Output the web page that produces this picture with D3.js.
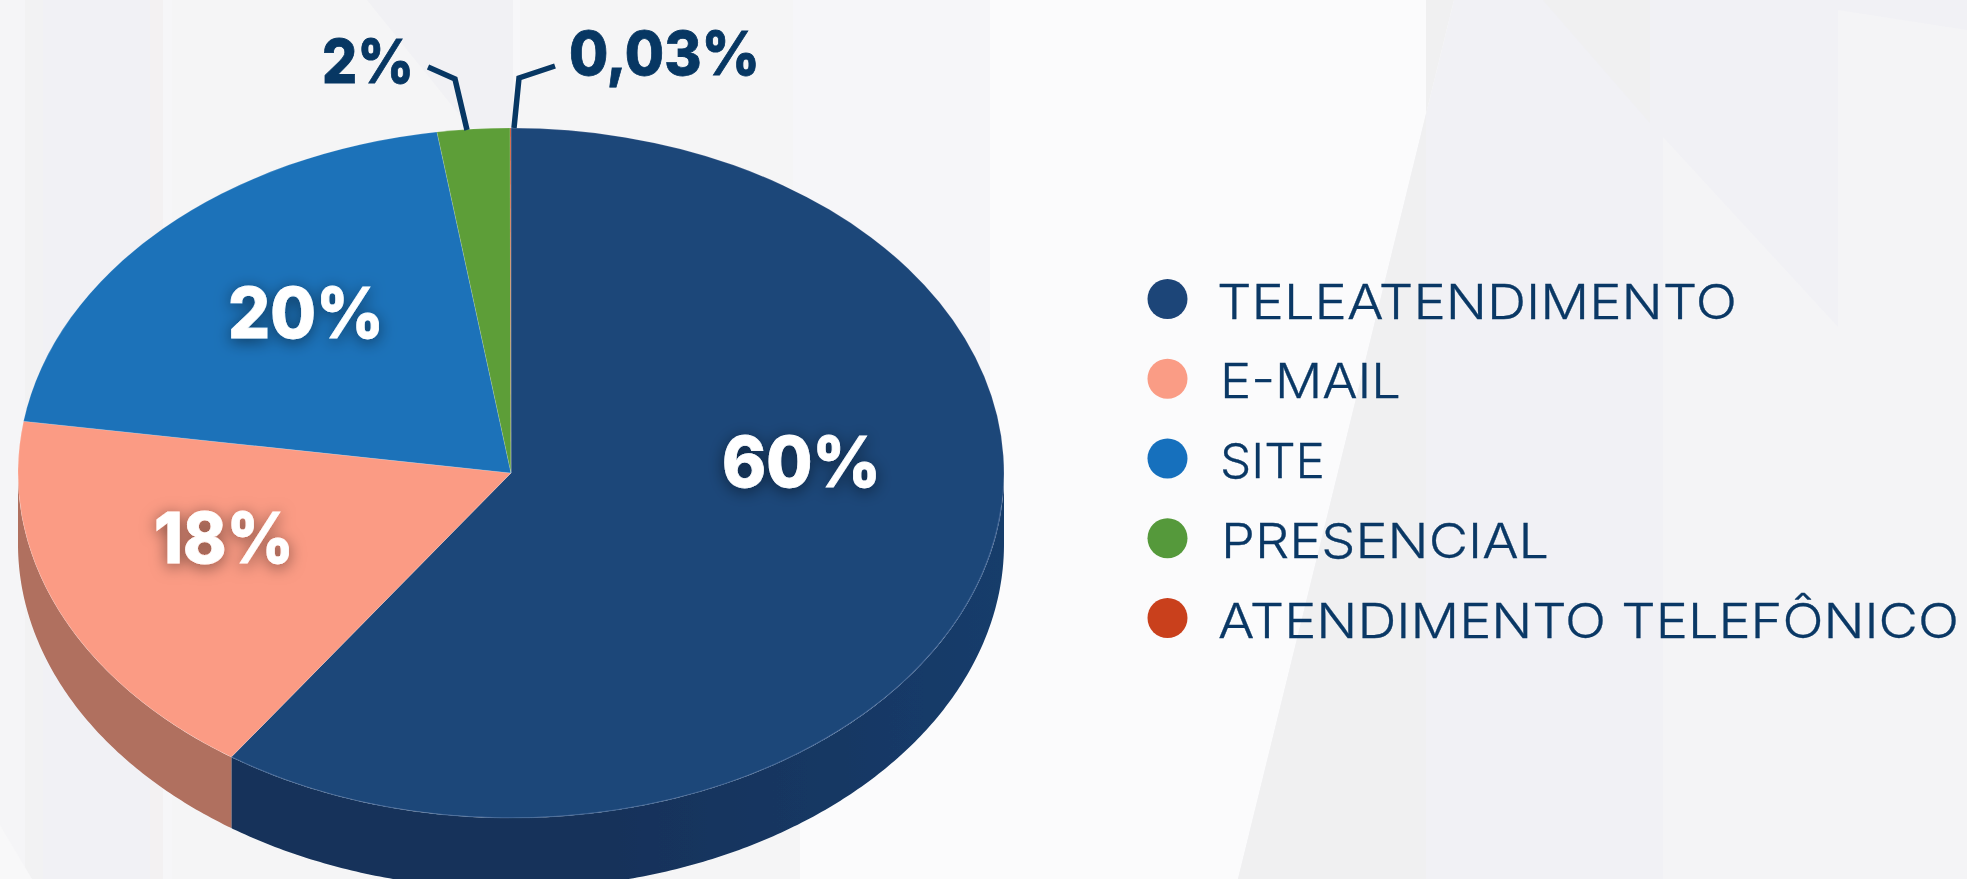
<!DOCTYPE html>
<html>
<head>
<meta charset="utf-8">
<style>
  html, body { margin: 0; padding: 0; background: #fbfbfc; overflow: hidden; }
  svg { display: block; }
</style>
<script src="https://cdn.jsdelivr.net/npm/d3@7"></script>
</head>
<body>
<svg id="chart" width="1967" height="879"></svg>
<script>
// data
var categories = ['TELEATENDIMENTO', 'E-MAIL', 'SITE', 'PRESENCIAL', 'ATENDIMENTO TELEFÔNICO'];
var values = [59.6, 17.8, 20.2, 2.37, 0.03];
var valueLabels = ['60%', '18%', '20%', '2%', '0,03%'];

// styles
var topColors = ['#1e4679', '#fb9b84', '#1b72b9', '#5d9e37', '#c9401f'];
var wallColors = ['url(#darkWall)', '#b06f5e', '#124f80', '#41702a', '#8c2d16'];
var dotColors = ['#1d4478', '#fa9c85', '#1670bd', '#55993a', '#c9401f'];
var navy = '#073763';
var legendInk = '#0a3865';

// layout
var width = 1967, height = 879;
var cx = 511, cy = 473, rx = 493, ry = 345, depth = 71;

// value labels: [x, baseline, width in px], white ones sit on the pie
var labelSpots = [[722, 487, 159], [154, 563, 140], [228, 338, 156], [322, 83, 92], [569, 75, 191]];
var leaders = [null, null, null,
  [[428, 67], [455, 79], [467, 130]],
  [[555, 66], [519, 78], [514, 128]]];

// legend: first dot / baseline and the text box of each row
var legendY = d3.scaleLinear().domain([0, 4]).range([299, 618]);
var legendText = [[1217, 520], [1220, 181], [1220, 105], [1221, 328], [1218, 741]];

var svg = d3.select('#chart');
var defs = svg.append('defs');

var soft = defs.append('filter').attr('id', 'soft');
soft.append('feGaussianBlur').attr('stdDeviation', 0.7);

var shadow = defs.append('filter').attr('id', 'shadow')
    .attr('x', '-30%').attr('y', '-40%').attr('width', '160%').attr('height', '190%');
shadow.append('feDropShadow')
    .attr('dx', 0).attr('dy', 3).attr('stdDeviation', 8)
    .attr('flood-color', '#000').attr('flood-opacity', 0.5);

var wallGrad = defs.append('linearGradient').attr('id', 'darkWall')
    .attr('gradientUnits', 'userSpaceOnUse')
    .attr('x1', 232).attr('x2', 1004).attr('y1', 0).attr('y2', 0);
wallGrad.append('stop').attr('offset', '0.5').attr('stop-color', '#14325a');
wallGrad.append('stop').attr('offset', '1').attr('stop-color', '#163c6b');

drawBackground();

var pie = d3.pie().sort(null).startAngle(0).endAngle(2 * Math.PI);
var slices = pie(values);
var arc = d3.arc().innerRadius(0).outerRadius(rx);

var pieG = svg.append('g').attr('filter', 'url(#soft)');

// side wall, only the front half of the disc shows it
var wallLine = d3.line();
function rim(a, dy) {
  return [cx + rx * Math.sin(a), cy - ry * Math.cos(a) + dy];
}
pieG.selectAll('path.wall')
  .data(slices)
  .enter().append('path')
    .attr('class', 'wall')
    .attr('fill', function(d, i) { return wallColors[i]; })
    .attr('d', function(d) {
      var a0 = Math.max(d.startAngle, Math.PI / 2);
      var a1 = Math.min(d.endAngle, 3 * Math.PI / 2);
      if (a1 <= a0) return null;
      var steps = d3.range(a0, a1, 0.01).concat([a1]);
      var upper = steps.map(function(a) { return rim(a, 0); });
      var lower = steps.slice().reverse().map(function(a) { return rim(a, depth); });
      return wallLine(upper.concat(lower)) + 'Z';
    });

var disc = pieG.append('g')
    .attr('transform', 'translate(' + cx + ',' + cy + ') scale(1,' + (ry / rx) + ')');

disc.selectAll('path.slice')
  .data(slices)
  .enter().append('path')
    .attr('class', 'slice')
    .attr('d', arc)
    .attr('fill', function(d, i) { return topColors[i]; })
    .attr('stroke', 'rgba(255,255,255,0.14)')
    .attr('stroke-width', 1)
    .attr('vector-effect', 'non-scaling-stroke');

// thin light edge where the top meets the wall
var edge = d3.arc().innerRadius(rx - 1).outerRadius(rx);
disc.append('path')
    .attr('d', edge({startAngle: Math.PI / 2 + 0.1, endAngle: slices[0].endAngle}))
    .attr('fill', '#3f6596');

// leader lines
svg.selectAll('path.leader')
  .data(leaders.filter(Boolean))
  .enter().append('path')
    .attr('class', 'leader')
    .attr('d', d3.line())
    .attr('fill', 'none')
    .attr('stroke', navy)
    .attr('stroke-width', 5.5);

// value labels
svg.selectAll('text.value')
  .data(valueLabels)
  .enter().append('text')
    .attr('class', 'value')
    .attr('x', function(d, i) { return labelSpots[i][0]; })
    .attr('y', function(d, i) { return labelSpots[i][1]; })
    .attr('textLength', function(d, i) { return labelSpots[i][2]; })
    .attr('lengthAdjust', 'spacingAndGlyphs')
    .attr('font-family', 'Inter, "Open Sans", sans-serif')
    .attr('font-weight', 800)
    .attr('font-size', function(d, i) { return i < 3 ? 70 : 61; })
    .attr('fill', function(d, i) { return i < 3 ? '#fff' : navy; })
    .attr('stroke', function(d, i) { return i < 3 ? '#fff' : navy; })
    .attr('stroke-width', 0.8)
    .attr('filter', function(d, i) { return i < 3 ? 'url(#shadow)' : null; })
    .text(function(d) { return d; });

// legend
var legend = svg.selectAll('g.legend')
  .data(categories)
  .enter().append('g')
    .attr('class', 'legend');

legend.append('circle')
    .attr('cx', 1167.5)
    .attr('cy', function(d, i) { return legendY(i); })
    .attr('r', 20)
    .attr('fill', function(d, i) { return dotColors[i]; })
    .attr('filter', 'url(#soft)');

legend.append('text')
    .attr('x', function(d, i) { return legendText[i][0]; })
    .attr('y', function(d, i) { return legendY(i) + 19.5; })
    .attr('textLength', function(d, i) { return legendText[i][1]; })
    .attr('lengthAdjust', 'spacingAndGlyphs')
    .attr('font-family', 'Inter, "Open Sans", sans-serif')
    .attr('font-weight', 300)
    .attr('font-size', 48)
    .attr('fill', legendInk)
    .attr('stroke', legendInk)
    .attr('stroke-width', 0.3)
    .text(function(d) { return d; });

function drawBackground() {
  var bg = svg.append('g');
  function band(x0, x1, y1, color) {
    bg.append('rect').attr('x', x0).attr('y', 0)
      .attr('width', x1 - x0).attr('height', y1).attr('fill', color);
  }
  function poly(pts, color) {
    bg.append('polygon').attr('points', pts.join(' ')).attr('fill', color);
  }
  bg.append('rect').attr('width', width).attr('height', height).attr('fill', '#fbfbfc');

  // pale vertical strips on the left
  band(0, 25, height, '#f5f5f7');
  band(25, 43, height, '#f2f2f3');
  band(43, 150, height, '#f1f1f5');
  band(150, 163, height, '#f3f1f2');
  band(163, 172, height, '#f6f6f8');
  band(172, 800, height, '#f5f5f6');
  band(793, 990, 480, '#f6f6f9');
  poly([[367, 0], [513, 0], [513, 128], [470, 128]], '#f1f1f4');
  poly([[513, 0], [520, 0], [520, 128], [513, 128]], '#f7f7f9');
  poly([[0, 825], [32, 879], [0, 879]], '#f8f8f9');

  // large facet on the right
  poly([[1454, 0], [1238, 879], [1967, 879], [1967, 0]], '#f1f1f5');
  poly([[1454, 0], [1238, 879], [1426, 879], [1426, 0]], '#f0f0f1');
  poly([[1543, 0], [1650, 123], [1650, 0]], '#f0f0f1');
  poly([[1663, 137], [1838, 327], [1838, 10], [1967, 30], [1967, 879], [1663, 879]], '#f4f4f6');
}
</script>
</body>
</html>
